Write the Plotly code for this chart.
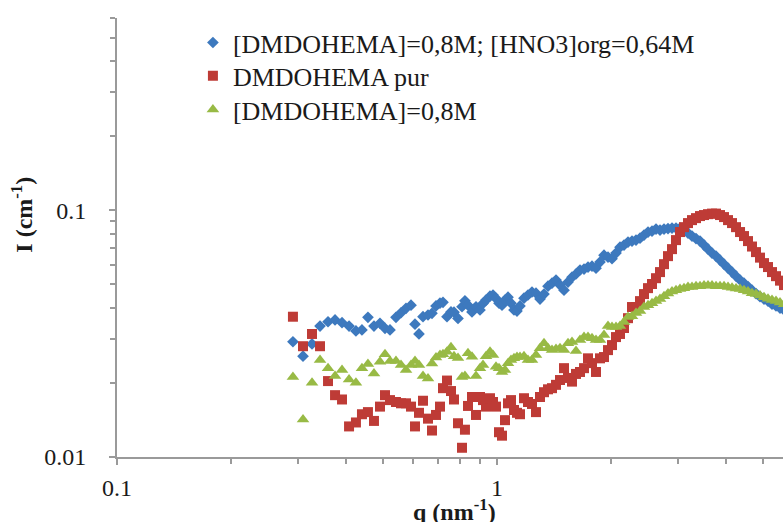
import plotly.graph_objects as go

# q grid (nm^-1), shared by the three series
q = [0.2904, 0.3087, 0.3260, 0.3422, 0.3592, 0.3748, 0.3910, 0.4080, 0.4254, 0.4412,
     0.4575, 0.4745, 0.4921, 0.5073, 0.5229, 0.5422, 0.5590, 0.5762, 0.5939, 0.6084,
     0.6233, 0.6386, 0.6583, 0.6744, 0.6910, 0.7079, 0.7209, 0.7386, 0.7567, 0.7706,
     0.7895, 0.8089, 0.8235, 0.8388, 0.8594, 0.8805, 0.9021, 0.9188, 0.9356, 0.9585,
     0.9761, 0.9940, 1.0122, 1.0308, 1.0497, 1.0689, 1.0885, 1.1085, 1.1288, 1.1495,
     1.1777, 1.2066, 1.2362, 1.2666, 1.2977, 1.3295, 1.3621, 1.3956, 1.4298, 1.4649,
     1.5009, 1.5377, 1.5755, 1.6141, 1.6538, 1.6944, 1.7359, 1.7783, 1.8220, 1.8666,
     1.9125, 1.9594, 2.0075, 2.0567, 2.1072, 2.1589, 2.2119, 2.2662, 2.3218, 2.3788,
     2.4372, 2.4970, 2.5583, 2.6211, 2.6854, 2.7513, 2.8184, 2.8877, 2.9586, 3.0312,
     3.1056, 3.1818, 3.2599, 3.3399, 3.4219, 3.5059, 3.5919, 3.6801, 3.7704, 3.8629,
     3.9577, 4.0549, 4.1544, 4.2563, 4.3608, 4.4668, 4.5765, 4.6888, 4.8039, 4.9218,
     5.0426, 5.1664, 5.2932, 5.4231, 5.5562, 5.6925]

# [DMDOHEMA]=0,8M; [HNO3]org=0,64M
I_acid = [0.0293, 0.0256, 0.0287, 0.0339, 0.0353, 0.0359, 0.0350, 0.0339, 0.0324, 0.0327,
          0.0368, 0.0339, 0.0348, 0.0332, 0.0327, 0.0368, 0.0384, 0.0400, 0.0412, 0.0345,
          0.0315, 0.0370, 0.0376, 0.0382, 0.0409, 0.0420, 0.0423, 0.0370, 0.0387, 0.0386,
          0.0364, 0.0406, 0.0429, 0.0412, 0.0387, 0.0406, 0.0394, 0.0419, 0.0432, 0.0448,
          0.0453, 0.0439, 0.0420, 0.0412, 0.0432, 0.0444, 0.0420, 0.0394, 0.0390, 0.0409,
          0.0440, 0.0453, 0.0466, 0.0461, 0.0436, 0.0457, 0.0492, 0.0506, 0.0521, 0.0497,
          0.0474, 0.0511, 0.0535, 0.0551, 0.0572, 0.0577, 0.0588, 0.0593, 0.0582, 0.0616,
          0.0657, 0.0645, 0.0636, 0.0670, 0.0708, 0.0722, 0.0742, 0.0749, 0.0756, 0.0770,
          0.0792, 0.0815, 0.0822, 0.0838, 0.0830, 0.0838, 0.0842, 0.0846, 0.0846, 0.0846,
          0.0838, 0.0807, 0.0785, 0.0767, 0.0749, 0.0722, 0.0695, 0.0670, 0.0651, 0.0627,
          0.0604, 0.0582, 0.0561, 0.0540, 0.0521, 0.0506, 0.0490, 0.0474, 0.0459, 0.0446,
          0.0436, 0.0428, 0.0416, 0.0409, 0.0401, 0.0394]

# DMDOHEMA pur
I_pure = [0.0370, 0.0281, 0.0315, 0.0281, 0.0203, 0.0178, 0.0171, 0.0133, 0.0138, 0.0149,
          0.0152, 0.0140, 0.0160, 0.0178, 0.0170, 0.0167, 0.0165, 0.0165, 0.0160, 0.0133,
          0.0151, 0.0169, 0.0143, 0.0128, 0.0148, 0.0160, 0.0190, 0.0204, 0.0185, 0.0171,
          0.0137, 0.0109, 0.0129, 0.0161, 0.0175, 0.0148, 0.0175, 0.0170, 0.0160, 0.0173,
          0.0167, 0.0160, 0.0126, 0.0122, 0.0141, 0.0165, 0.0170, 0.0155, 0.0151, 0.0149,
          0.0173, 0.0167, 0.0164, 0.0152, 0.0175, 0.0183, 0.0188, 0.0190, 0.0196, 0.0205,
          0.0229, 0.0209, 0.0202, 0.0217, 0.0221, 0.0229, 0.0251, 0.0240, 0.0221, 0.0251,
          0.0254, 0.0271, 0.0284, 0.0306, 0.0315, 0.0333, 0.0365, 0.0405, 0.0405, 0.0428,
          0.0457, 0.0483, 0.0502, 0.0530, 0.0561, 0.0604, 0.0651, 0.0695, 0.0756, 0.0815,
          0.0853, 0.0886, 0.0911, 0.0928, 0.0946, 0.0955, 0.0963, 0.0968, 0.0968, 0.0955,
          0.0937, 0.0911, 0.0886, 0.0853, 0.0815, 0.0785, 0.0749, 0.0712, 0.0676, 0.0642,
          0.0610, 0.0588, 0.0561, 0.0540, 0.0518, 0.0497]

# [DMDOHEMA]=0,8M
I_08 = [0.0211, 0.0142, 0.0200, 0.0247, 0.0229, 0.0213, 0.0225, 0.0206, 0.0200, 0.0229,
        0.0238, 0.0218, 0.0243, 0.0261, 0.0245, 0.0245, 0.0236, 0.0225, 0.0236, 0.0245,
        0.0236, 0.0213, 0.0208, 0.0239, 0.0253, 0.0259, 0.0261, 0.0267, 0.0278, 0.0256,
        0.0252, 0.0211, 0.0213, 0.0263, 0.0255, 0.0213, 0.0229, 0.0236, 0.0256, 0.0267,
        0.0259, 0.0232, 0.0229, 0.0221, 0.0225, 0.0240, 0.0247, 0.0251, 0.0254, 0.0254,
        0.0256, 0.0247, 0.0247, 0.0259, 0.0276, 0.0289, 0.0276, 0.0271, 0.0274, 0.0276,
        0.0271, 0.0289, 0.0292, 0.0269, 0.0298, 0.0306, 0.0306, 0.0303, 0.0298, 0.0298,
        0.0312, 0.0339, 0.0336, 0.0336, 0.0339, 0.0352, 0.0369, 0.0372, 0.0383, 0.0390,
        0.0405, 0.0412, 0.0420, 0.0428, 0.0436, 0.0448, 0.0459, 0.0468, 0.0474, 0.0479,
        0.0483, 0.0488, 0.0488, 0.0492, 0.0492, 0.0495, 0.0495, 0.0495, 0.0492, 0.0492,
        0.0492, 0.0488, 0.0485, 0.0481, 0.0479, 0.0474, 0.0468, 0.0461, 0.0457, 0.0451,
        0.0444, 0.0438, 0.0432, 0.0428, 0.0422, 0.0416]

names = ["[DMDOHEMA]=0,8M; [HNO3]org=0,64M", "DMDOHEMA pur", "[DMDOHEMA]=0,8M"]
x_major = [0.1, 1]
x_major_text = ["0.1", "1"]
x_minor = [0.2, 0.3, 0.4, 0.5, 0.6, 0.7, 0.8, 0.9, 2, 3, 4, 5]
y_major = [0.01, 0.1]
y_major_text = ["0.01", "0.1"]
y_minor = [0.02, 0.03, 0.04, 0.05, 0.06, 0.07, 0.08, 0.09, 0.2, 0.3, 0.4, 0.5, 0.6]

FONT = "Liberation Serif"
AXC = "#9a9a9a"
TXT = "#1a1a1a"

fig = go.Figure()
fig.add_trace(go.Scatter(x=q, y=I_acid, mode="markers", name=names[0], legend="legend", showlegend=True,
                         marker=dict(symbol="diamond", size=9, color="#3D79BE", line=dict(width=0))))
fig.add_trace(go.Scatter(x=q, y=I_pure, mode="markers", name=names[1], legend="legend2", showlegend=True,
                         marker=dict(symbol="square", size=10, color="#BE3B36", line=dict(width=0))))
fig.add_trace(go.Scatter(x=q, y=I_08, mode="markers", name=names[2], legend="legend3", showlegend=True,
                         marker=dict(symbol="triangle-up", size=11, color="#98BA45", line=dict(width=0))))

axis_common = dict(type="log", showline=True, linecolor=AXC, linewidth=2, ticks="outside",
                   ticklen=6, tickwidth=2, tickcolor=AXC, showgrid=False, zeroline=False,
                   automargin=False, tickfont=dict(family=FONT, size=24, color=TXT))

fig.update_xaxes(range=[-1, 0.75263], tickmode="array", tickvals=x_major, ticktext=x_major_text,
                 minor=dict(tickmode="array", tickvals=x_minor, ticks="outside", ticklen=5,
                            tickwidth=2, tickcolor=AXC, showgrid=False),
                 ticklabelstandoff=2, **axis_common)
fig.update_yaxes(range=[-2, -0.221849], tickmode="array", tickvals=y_major, ticktext=y_major_text,
                 minor=dict(tickmode="array", tickvals=y_minor, ticks="outside", ticklen=5,
                            tickwidth=2, tickcolor=AXC, showgrid=False),
                 ticklabelstandoff=18, **axis_common)

leg = dict(x=0.114, xanchor="left", yanchor="middle", font=dict(family=FONT, size=26, color=TXT),
           bgcolor="rgba(0,0,0,0)", itemwidth=30, visible=True)

fig.update_layout(
    width=783, height=522,
    margin=dict(l=117, r=0, t=18, b=65),
    plot_bgcolor="white", paper_bgcolor="white",
    font=dict(family=FONT, size=24, color=TXT),
    showlegend=True,
    legend=dict(y=0.944, **leg),
    legend2=dict(y=0.868, **leg),
    legend3=dict(y=0.7916, **leg),
    annotations=[
        dict(text="<b>q (nm<sup>-1</sup>)</b>", xref="paper", yref="paper", x=0.5075, y=-0.1207,
             xanchor="center", yanchor="middle", showarrow=False, font=dict(family=FONT, size=24, color=TXT)),
        dict(text="<b>I (cm<sup>-1</sup>)</b>", xref="paper", yref="paper", x=-0.1426, y=0.552,
             xanchor="center", yanchor="middle", textangle=-90, showarrow=False,
             font=dict(family=FONT, size=24, color=TXT)),
    ],
)

fig.write_html("out.html", config={"displayModeBar": False},
               post_script="document.body.style.margin='0px';")
